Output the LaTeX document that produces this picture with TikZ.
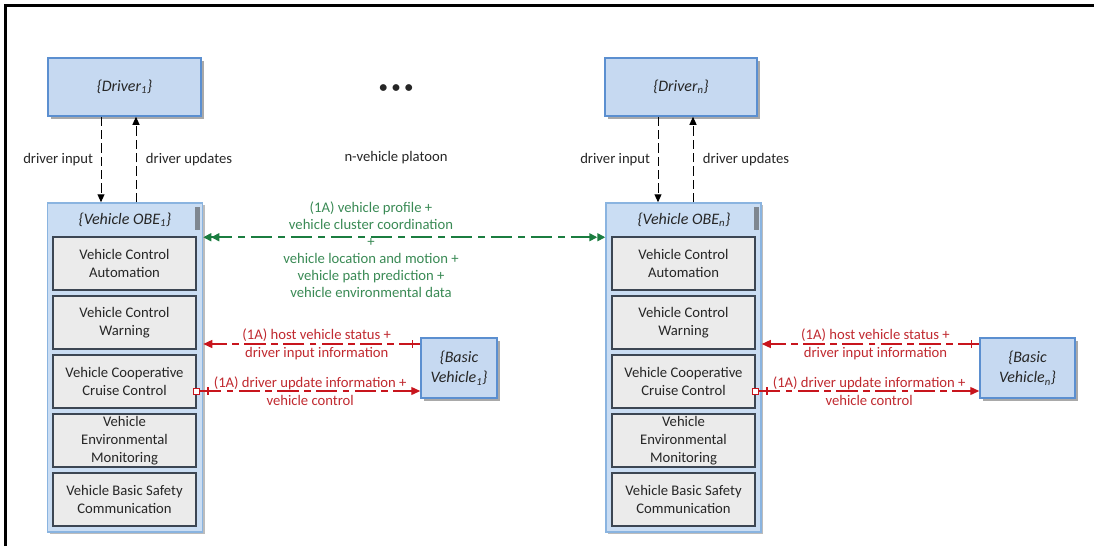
\documentclass[tikz,border=0pt]{standalone}
\usepackage{fontspec}
\setmainfont{Carlito}
\usetikzlibrary{arrows.meta,shadows,calc}
\definecolor{bfill}{HTML}{C6D9F1}
\definecolor{bdraw}{HTML}{5B8FD0}
\definecolor{ofill}{HTML}{CADDF3}
\definecolor{odraw}{HTML}{8AB4E0}
\definecolor{ifill}{HTML}{EBEBEB}
\definecolor{idraw}{HTML}{3C4653}
\definecolor{gline}{HTML}{1B7D40}
\definecolor{gtext}{HTML}{3A8A55}
\definecolor{rline}{HTML}{C8151D}
\definecolor{rtext}{HTML}{C0292F}
\definecolor{txt}{HTML}{262626}
\definecolor{shad}{HTML}{A0A0A0}
\definecolor{scroll}{HTML}{7F8790}
\begin{document}
\begin{tikzpicture}[x=0.75pt,y=-0.75pt,
  font=\fontsize{11}{13.4}\selectfont, text=txt,
  bluebox/.style={draw=bdraw, fill=bfill, line width=1.125pt, align=center, inner sep=0pt,
    drop shadow={shadow xshift=2.25pt, shadow yshift=-2.25pt, fill=shad, opacity=0.9}},
  obebox/.style={draw=odraw, fill=ofill, line width=1.125pt, inner sep=0pt,
    minimum width=116.25pt, minimum height=246.75pt,
    drop shadow={shadow xshift=1.5pt, shadow yshift=-1.5pt, fill=shad, opacity=0.7}},
  subbox/.style={draw=idraw, fill=ifill, line width=0.9pt, align=center, inner sep=0pt,
    minimum width=107.25pt, minimum height=39.75pt},
  ital/.style={font=\fontsize{12}{15.5}\selectfont\itshape},
  blkarrow/.style={draw=black, line width=0.75pt, dash pattern=on 7pt off 3pt,
    -{Triangle[length=6pt,width=5.25pt]}},
  garrow/.style={draw=gline, line width=1.2pt, dash pattern=on 16pt off 4.5pt on 5pt off 4.5pt,
    {Triangle[length=6pt,width=6pt]Triangle[length=6pt,width=6pt]}-{Triangle[length=6pt,width=6pt]Triangle[length=6pt,width=6pt]}},
  rarrow/.style={draw=rline, line width=0.975pt, dash pattern=on 16pt off 4pt on 5pt off 4pt,
    -{Triangle[length=6.75pt,width=6pt]}},
  rtick/.style={draw=rline, line width=0.975pt},
  rlab/.style={text=rtext, align=center, font=\fontsize{11}{13.5}\selectfont},
  sqr/.style={draw=rline, fill=white, line width=0.75pt, minimum size=4.5pt, inner sep=0pt},
  lab/.style={text=txt}
]
\useasboundingbox (0,0) rectangle (1094,546);
% frame
\draw[line width=2.25pt] (5.5,546) -- (5.5,5.5) -- (1094,5.5);

% drivers
\node[bluebox, ital, minimum width=114.75pt, minimum height=43.5pt] (d1) at (124.5,87) {\{Driver\textsubscript{1}\}};
\node[bluebox, ital, minimum width=114pt, minimum height=43.5pt] (dn) at (681,87) {\{Driver\textsubscript{n}\}};

% ellipsis and platoon label
\node (dots) at (396,89) {\fontsize{12}{12}\selectfont\textbf{\textbullet\kern3.6pt\textbullet\kern3.6pt\textbullet}};
\node (plat) at (396,158) {n-vehicle platoon};

% OBE 1
\node[obebox] (o1) at (125,367.5) {};
\fill[scroll] (195,207) rectangle (200,230);
\node[ital] (h1) at (125,220) {\{Vehicle OBE\textsubscript{1}\}};
\node[subbox] (s11) at (124.5,263.5) {Vehicle Control\\Automation};
\node[subbox] (s12) at (124.5,322.5) {Vehicle Control\\Warning};
\node[subbox] (s13) at (124.5,381.5) {Vehicle Cooperative\\Cruise Control};
\node[subbox] (s14) at (124.5,440.5) {Vehicle\\Environmental\\Monitoring};
\node[subbox] (s15) at (124.5,499.5) {Vehicle Basic Safety\\Communication};

% OBE n
\node[obebox] (on) at (683.5,367.5) {};
\fill[scroll] (754,207) rectangle (759,230);
\node[ital] (hn) at (684,220) {\{Vehicle OBE\textsubscript{n}\}};
\node[subbox] (sn1) at (683.5,263.5) {Vehicle Control\\Automation};
\node[subbox] (sn2) at (683.5,322.5) {Vehicle Control\\Warning};
\node[subbox] (sn3) at (683.5,381.5) {Vehicle Cooperative\\Cruise Control};
\node[subbox] (sn4) at (683.5,440.5) {Vehicle\\Environmental\\Monitoring};
\node[subbox] (sn5) at (683.5,499.5) {Vehicle Basic Safety\\Communication};

% basic vehicles
\node[bluebox, ital, minimum width=57pt, minimum height=45pt] (bv1) at (459,368) {\{Basic\\Vehicle\textsubscript{1}\}};
\node[bluebox, ital, minimum width=71.25pt, minimum height=45pt] (bvn) at (1027.5,368) {\{Basic\\Vehicle\textsubscript{n}\}};

% driver arrows
\coordinate (a1) at ([xshift=-17.625pt]d1.south);
\coordinate (b1) at ([xshift=8.625pt]d1.south);
\draw[blkarrow] (a1) -- node[left, xshift=-2.25pt, lab] {driver input} (a1 |- o1.north);
\draw[blkarrow] (b1 |- o1.north) -- node[right, xshift=3.75pt, lab] {driver updates} (b1);
\coordinate (an) at ([xshift=-17.25pt]dn.south);
\coordinate (bn) at ([xshift=9pt]dn.south);
\draw[blkarrow] (an) -- node[left, xshift=-2.25pt, lab] {driver input} (an |- on.north);
\draw[blkarrow] (bn |- on.north) -- node[right, xshift=3.75pt, lab] {driver updates} (bn);

% green V2V arrow
\coordinate (g1) at ($(o1.north east)+(0,35)$);
\draw[garrow] (g1) -- (g1 -| on.west);
\node[text=gtext, align=center, font=\fontsize{11}{12.75}\selectfont] (gl) at (371,249.5)
  {(1A) vehicle profile +\\vehicle cluster coordination\\+\\vehicle location and motion +\\vehicle path prediction +\\vehicle environmental data};

% red arrows, vehicle 1
\coordinate (u1) at ($(bv1.west)+(0,-24)$);
\draw[rarrow] (u1) -- node[rlab, xshift=3.75pt] {(1A) host vehicle status +\\driver input information} (u1 -| o1.east);
\draw[rtick] ($(u1)+(-8,-4)$) -- ($(u1)+(-8,4)$);
\node[sqr] (q1) at ($(s13.east)+(0,9.5)$) {};
\draw[rarrow] (q1.east) -- node[rlab] {(1A) driver update information +\\vehicle control} (q1.east -| bv1.west);
\draw[rtick] ($(q1.east)+(8,-4)$) -- ($(q1.east)+(8,4)$);

% red arrows, vehicle n
\coordinate (un) at ($(bvn.west)+(0,-24)$);
\draw[rarrow] (un) -- node[rlab, xshift=3.75pt] {(1A) host vehicle status +\\driver input information} (un -| on.east);
\draw[rtick] ($(un)+(-8,-4)$) -- ($(un)+(-8,4)$);
\node[sqr] (qn) at ($(sn3.east)+(0,9.5)$) {};
\draw[rarrow] (qn.east) -- node[rlab] {(1A) driver update information +\\vehicle control} (qn.east -| bvn.west);
\draw[rtick] ($(qn.east)+(8,-4)$) -- ($(qn.east)+(8,4)$);
\end{tikzpicture}
\end{document}
